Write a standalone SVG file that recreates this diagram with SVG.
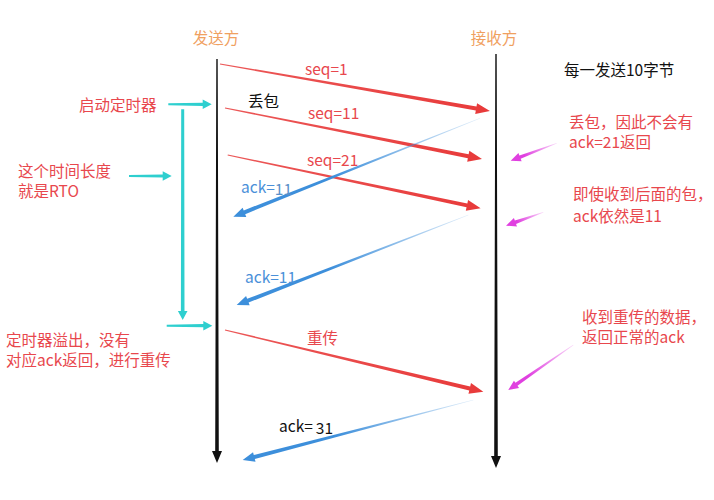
<svg xmlns="http://www.w3.org/2000/svg" width="714" height="500" viewBox="0 0 714 500">
<defs>
<linearGradient id="gBlue" x1="0" y1="0" x2="1" y2="0"><stop offset="0" stop-color="#3d8fdb" stop-opacity="0.15"/><stop offset="0.6" stop-color="#3d8fdb" stop-opacity="1"/></linearGradient>
<linearGradient id="gMag" x1="0" y1="0" x2="1" y2="0"><stop offset="0" stop-color="#e040e0" stop-opacity="0.2"/><stop offset="0.7" stop-color="#e040e0" stop-opacity="1"/></linearGradient>
<linearGradient id="gRed" x1="0" y1="0" x2="1" y2="0"><stop offset="0" stop-color="#e83a3a" stop-opacity="0.85"/><stop offset="1" stop-color="#e83a3a" stop-opacity="1"/></linearGradient>
</defs>
<style>
text{font-family:"Noto Sans CJK SC","Liberation Sans",sans-serif;font-size:15.5px}
.title{fill:#f0a060}
.red{fill:#e8474d}
.blk{fill:#111}
.blu{fill:#4a90d9}
.ar{fill:url(#gRed)}
.ab{fill:url(#gBlue)}
.am{fill:url(#gMag)}
.ac{fill:#2ecfcf}
.ak{fill:#111}
</style>
<rect width="714" height="500" fill="#fff"/>
<g id="sender">
<text class="title" x="216" y="44" text-anchor="middle">发送方</text>
<g transform="translate(217 59) rotate(90)"><polygon class="ak" points="0,-0.7 392,-1.8 392,-5 404,0 392,5 392,1.8 0,0.7"/></g>
</g>
<g id="receiver">
<text class="title" x="494" y="44" text-anchor="middle">接收方</text>
<g transform="translate(496 54) rotate(90)"><polygon class="ak" points="0,-0.7 402,-1.8 402,-5 414,0 402,5 402,1.8 0,0.7"/></g>
</g>
<g id="connectors">
<g transform="translate(220 64) rotate(9.87)"><polygon class="ar" points="0,-0.6 260,-2 260,-5.5 274,0 260,5.5 260,2 0,0.6"/></g>
<g transform="translate(225 108) rotate(11.22)"><polygon class="ar" points="0,-0.6 248,-2 248,-5.5 262,0 248,5.5 248,2 0,0.6"/></g>
<g transform="translate(227.7 155) rotate(11.9)"><polygon class="ar" points="0,-0.6 244.5,-2 244.5,-5.5 258.5,0 244.5,5.5 244.5,2 0,0.6"/></g>
<g transform="translate(225 330) rotate(13.43)"><polygon class="ar" points="0,-0.6 251.6,-2 251.6,-5.5 265.6,0 251.6,5.5 251.6,2 0,0.6"/></g>
<g transform="translate(480 118.3) rotate(158.25)"><polygon class="ab" points="0,-0.3 253.6,-2 253.6,-5 265.6,0 253.6,5 253.6,2 0,0.3"/></g>
<g transform="translate(468.3 215) rotate(158.76)"><polygon class="ab" points="0,-0.3 236.5,-2 236.5,-5 248.5,0 236.5,5 236.5,2 0,0.3"/></g>
<g transform="translate(473.3 400) rotate(165.42)"><polygon class="ab" points="0,-0.3 226.3,-2 226.3,-5 238.3,0 226.3,5 226.3,2 0,0.3"/></g>
<g transform="translate(556.7 143.3) rotate(159.3)"><polygon class="am" points="0,-0.3 39.2,-1.8 39.2,-4.5 49.2,0 39.2,4.5 39.2,1.8 0,0.3"/></g>
<g transform="translate(543.3 212.3) rotate(160.24)"><polygon class="am" points="0,-0.3 29.6,-1.8 29.6,-4.5 39.6,0 29.6,4.5 29.6,1.8 0,0.3"/></g>
<g transform="translate(573.3 345) rotate(145.3)"><polygon class="am" points="0,-0.3 69.1,-1.8 69.1,-4.5 79.1,0 69.1,4.5 69.1,1.8 0,0.3"/></g>
<g transform="translate(168.3 104.3)"><polygon class="ac" points="0,-1 34.4,-1.6 34.4,-4.8 43.4,0 34.4,4.8 34.4,1.6 0,1"/></g>
<g transform="translate(129 176)"><polygon class="ac" points="0,-1 33.7,-1.6 33.7,-4.8 42.7,0 33.7,4.8 33.7,1.6 0,1"/></g>
<g transform="translate(166.7 325.7)"><polygon class="ac" points="0,-1 36.6,-1.6 36.6,-4.8 45.6,0 36.6,4.8 36.6,1.6 0,1"/></g>
<g transform="translate(182.7 109.3) rotate(90)"><polygon class="ac" points="0,-1.5 201.7,-1.8 201.7,-4.8 210.7,0 201.7,4.8 201.7,1.8 0,1.5"/></g>
</g>
<g id="labels">
<text class="red" x="305" y="75">seq=1</text>
<text class="red" x="308" y="119">seq=11</text>
<text class="red" x="307" y="166">seq=21</text>
<text class="red" x="307" y="344">重传</text>
<text class="blk" x="248" y="107">丢包</text>
<text class="blu" x="241" y="193">ack=<tspan dy="2" fill="#5a8fc8">11</tspan></text>
<text class="blu" x="245" y="283">ack=11</text>
<text class="blk" x="279" y="432">ack=<tspan dx="3" dy="2">31</tspan></text>
</g>
<g id="notes">
<text class="red" x="79" y="111">启动定时器</text>
<text class="red" x="18" y="176.5">这个时间长度</text>
<text class="red" x="18" y="196.5">就是RTO</text>
<text class="red" x="6" y="345.5">定时器溢出，没有</text>
<text class="red" x="6" y="365.5">对应ack返回，进行重传</text>
<text class="blk" x="564" y="76">每一发送10字节</text>
<text class="red" x="569" y="128">丢包，因此不会有</text>
<text class="red" x="569" y="148">ack=21返回</text>
<text class="red" x="573" y="200">即使收到后面的包，</text>
<text class="red" x="573" y="222">ack依然是11</text>
<text class="red" x="582" y="323">收到重传的数据，</text>
<text class="red" x="582" y="343">返回正常的ack</text>
</g>
</svg>
